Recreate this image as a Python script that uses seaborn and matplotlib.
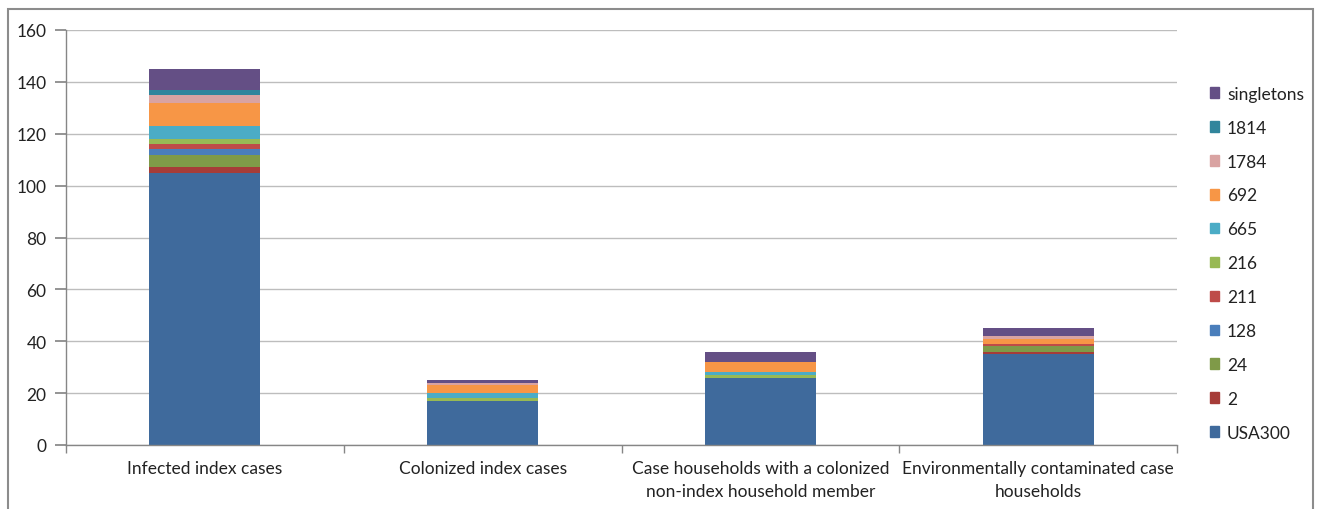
import matplotlib
matplotlib.use("Agg")
import matplotlib.pyplot as plt
from matplotlib.patches import Rectangle
import seaborn as sns
import pandas as pd

categories = [
    "Infected index cases",
    "Colonized index cases",
    "Case households with a colonized\nnon-index household member",
    "Environmentally contaminated case\nhouseholds",
]
series = ["USA300", "2", "24", "128", "211", "216", "665", "692", "1784", "1814", "singletons"]
values = {
    "USA300":     [105, 17, 26, 35],
    "2":          [2, 0, 0, 1],
    "24":         [5, 0, 0, 2],
    "128":        [2, 0, 0, 0],
    "211":        [2, 0, 0, 1],
    "216":        [2, 1, 1, 0],
    "665":        [5, 2, 1, 0],
    "692":        [9, 3, 4, 2],
    "1784":       [3, 1, 0, 1],
    "1814":       [2, 0, 0, 0],
    "singletons": [8, 1, 4, 3],
}
colors = {
    "USA300": "#3F6A9C", "2": "#A63C38", "24": "#7F9A48", "128": "#4A7EBB",
    "211": "#BE4B48", "216": "#98B954", "665": "#4BACC6", "692": "#F79646",
    "1784": "#D9A3A2", "1814": "#31859C", "singletons": "#644F85",
}
yticks = [0, 20, 40, 60, 80, 100, 120, 140, 160]

rows = []
for s in series:
    for c, v in zip(categories, values[s]):
        rows.append({"category": c, "strain": s, "count": v})
df = pd.DataFrame(rows)
df["category"] = pd.Categorical(df["category"], categories=categories, ordered=True)

sns.set_theme(style="white")
plt.rcParams["font.family"] = ["Lato", "DejaVu Sans"]

fig = plt.figure(figsize=(13.19, 5.10), dpi=100)
ax = fig.add_axes([66 / 1319, 64 / 510, (1177 - 66) / 1319, (446 - 31) / 510])

hue_order = series[::-1]
sns.histplot(
    data=df, x="category", hue="strain", weights="count",
    hue_order=hue_order, palette=colors, multiple="stack",
    discrete=True, shrink=0.4, linewidth=0, alpha=1, ax=ax, legend=False,
)

fs = 12.5
ax.set_ylim(0, 160)
ax.set_xlim(-0.5, 3.5)
ax.set_yticks(yticks)
ax.set_yticklabels([str(t) for t in yticks], fontsize=fs, color="#222222")
ax.set_xticks(range(len(categories)))
ax.set_xticklabels(categories, fontsize=fs, color="#222222", linespacing=1.5)
ax.set_xticks([-0.5, 0.5, 1.5, 2.5, 3.5], minor=True)
ax.tick_params(axis="x", which="major", length=0, pad=11)
ax.tick_params(axis="x", which="minor", length=6, color="#868686", direction="out", bottom=True)
ax.tick_params(axis="y", length=8, color="#868686", direction="out", left=True, pad=6)
ax.set_xlabel("")
ax.set_ylabel("")
ax.yaxis.grid(True, color="#BDBDBD", linewidth=1)
ax.set_axisbelow(True)
for sp in ["top", "right"]:
    ax.spines[sp].set_visible(False)
for sp in ["left", "bottom"]:
    ax.spines[sp].set_color("#868686")
    ax.spines[sp].set_linewidth(1)

handles = [Rectangle((0, 0), 1, 1, color=colors[s]) for s in hue_order]
leg = fig.legend(
    handles, hue_order, loc="center left", bbox_to_anchor=(1194 / 1319, 0.482),
    frameon=False, fontsize=fs, handlelength=0.55, handleheight=0.55,
    labelspacing=1.03, handletextpad=0.45,
)
for t in leg.get_texts():
    t.set_color("#222222")

fig.patches.append(Rectangle((8 / 1319, -0.05), (1313 - 8) / 1319, (510 - 10) / 510 + 0.05,
                             transform=fig.transFigure, fill=False,
                             edgecolor="#8C8C8C", linewidth=1.5))

fig.savefig("out.png", dpi=100)
